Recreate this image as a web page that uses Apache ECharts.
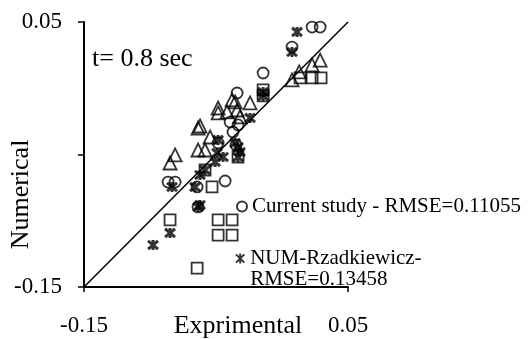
<!DOCTYPE html>
<html>
<head>
<meta charset="utf-8">
<script src="https://cdn.jsdelivr.net/npm/echarts@6/dist/echarts.min.js"></script>
<style>html,body{margin:0;padding:0;background:#fff}#c{width:529px;height:339px}</style>
</head>
<body>
<div id="c"></div>
<script>
// Data
const xTickLabels = ['-0.15', '0.05'];
const yTickLabels = ['-0.15', '', '0.05'];
const xTitle = 'Exprimental';
const yTitle = 'Numerical';
const noteText = 't= 0.8 sec';
const circleName = 'Current study - RMSE=0.11055';
const starName = 'NUM-Rzadkiewicz-\nRMSE=0.13458';

const circlePts = [
  [0.0228, 0.0462], [0.0289, 0.0462], [0.0076, 0.0311], [-0.0143, 0.0115],
  [-0.0340, -0.0036], [-0.0393, -0.0255], [-0.0333, -0.0277], [-0.0371, -0.0330],
  [-0.0348, -0.0428], [-0.0484, -0.0413],
  [-0.0863, -0.0708], [-0.0810, -0.0708], [-0.0431, -0.0700], [-0.0643, -0.0745],
  [-0.0636, -0.0896]
];
const starPts = [
  [0.0114, 0.0425], [0.0076, 0.0274], [-0.0143, -0.0028], [-0.0143, -0.0058],
  [-0.0242, -0.0224], [-0.0484, -0.0390], [-0.0355, -0.0413], [-0.0333, -0.0443],
  [-0.0318, -0.0481], [-0.0492, -0.0488], [-0.0446, -0.0519], [-0.0507, -0.0557],
  [-0.0583, -0.0617], [-0.0621, -0.0655], [-0.0659, -0.0745], [-0.0833, -0.0745],
  [-0.0636, -0.0896], [-0.0621, -0.0881], [-0.0848, -0.1092], [-0.0977, -0.1183],
  [-0.0333, -0.0519]
];
const trianglePts = [
  [0.0289, 0.0213], [0.0228, 0.0176], [0.0130, 0.0123], [0.0076, 0.0063],
  [-0.0355, -0.0103], [-0.0242, -0.0111], [-0.0484, -0.0186], [-0.0416, -0.0179],
  [-0.0340, -0.0164], [-0.0318, -0.0216], [-0.0378, -0.0088], [-0.0484, -0.0149],
  [-0.0636, -0.0300], [-0.0621, -0.0285], [-0.0545, -0.0368],
  [-0.0636, -0.0466], [-0.0583, -0.0466], [-0.0810, -0.0503], [-0.0848, -0.0564]
];
const squarePts = [
  [0.0137, 0.0078], [0.0228, 0.0078], [0.0296, 0.0078], [-0.0143, -0.0013],
  [-0.0143, -0.0058], [-0.0333, -0.0519], [-0.0583, -0.0617], [-0.0530, -0.0745],
  [-0.0848, -0.0994], [-0.0484, -0.0994], [-0.0378, -0.0994],
  [-0.0484, -0.1108], [-0.0378, -0.1108], [-0.0643, -0.1357]
];
const diagonal = [[-0.15, -0.15], [0.05, 0.05]];

const FONT = 'Liberation Serif';
const starPath = 'path://M0,0L10,10M10,0L0,10M5,-1L5,11';
const hollow = { color: 'rgba(0,0,0,0)', borderColor: '#000', borderWidth: 1.8 };

const chart = echarts.init(document.getElementById('c'), null, { renderer: 'canvas' });
chart.setOption({
  animation: false,
  backgroundColor: '#fff',
  grid: { left: 84, right: 181, top: 22, bottom: 52, containLabel: false, outerBoundsMode: 'none' },
  xAxis: {
    type: 'value', min: -0.15, max: 0.05, interval: 0.2,
    name: xTitle, nameLocation: 'middle', nameGap: 26, nameMoveOverlap: false,
    nameTextStyle: { fontFamily: FONT, fontSize: 26, color: '#000', padding: [0, 0, 0, 44] },
    axisLine: { onZero: false, lineStyle: { color: '#000', width: 2 } },
    axisTick: { show: true, length: 5, inside: false, lineStyle: { color: '#000', width: 1.5 } },
    axisLabel: {
      margin: 27, fontFamily: FONT, fontSize: 23, color: '#000',
      formatter: (v, i) => xTickLabels[i] || ''
    },
    splitLine: { show: false }
  },
  yAxis: {
    type: 'value', min: -0.15, max: 0.05, interval: 0.1,
    name: yTitle, nameLocation: 'middle', nameGap: 50, nameRotate: 90, nameMoveOverlap: false,
    nameTextStyle: { fontFamily: FONT, fontSize: 26, color: '#000', padding: [0, 80, 0, 0] },
    axisLine: { onZero: false, lineStyle: { color: '#000', width: 2 } },
    axisTick: { show: true, length: 6, lineStyle: { color: '#000', width: 1.5 } },
    axisLabel: {
      margin: 22, fontFamily: FONT, fontSize: 23, color: '#000',
      formatter: (v, i) => yTickLabels[i] || ''
    },
    splitLine: { show: false }
  },
  legend: [
    {
      data: [circleName], orient: 'vertical', left: 231, top: 191,
      itemWidth: 10, itemHeight: 10,
      textStyle: { fontFamily: FONT, fontSize: 21, color: '#000' }
    },
    {
      data: [starName], orient: 'vertical', left: 230, top: 222,
      itemWidth: 10, itemHeight: 10,
      formatter: n => ' \n' + n,
      textStyle: { fontFamily: FONT, fontSize: 21, color: '#000', lineHeight: 21 }
    }
  ],
  graphic: [{
    type: 'text', left: 92, top: 46,
    style: { text: noteText, font: '26px "Liberation Serif"', fill: '#000' }
  }],
  series: [
    {
      name: 'diag', type: 'line', data: diagonal, symbol: 'none',
      lineStyle: { color: '#000', width: 1.5 }, z: 1, silent: true
    },
    {
      name: 'tri', type: 'scatter', data: trianglePts, symbol: 'triangle', symbolSize: 13,
      itemStyle: hollow
    },
    {
      name: 'sq', type: 'scatter', data: squarePts, symbol: 'rect', symbolSize: 11,
      itemStyle: hollow
    },
    {
      name: circleName, type: 'scatter', data: circlePts, symbol: 'circle', symbolSize: 11,
      itemStyle: hollow
    },
    {
      name: starName, type: 'scatter', data: starPts, symbol: starPath, symbolSize: 10,
      itemStyle: { color: 'rgba(0,0,0,0)', borderColor: '#000', borderWidth: 3 }
    }
  ]
});
</script>
</body>
</html>
